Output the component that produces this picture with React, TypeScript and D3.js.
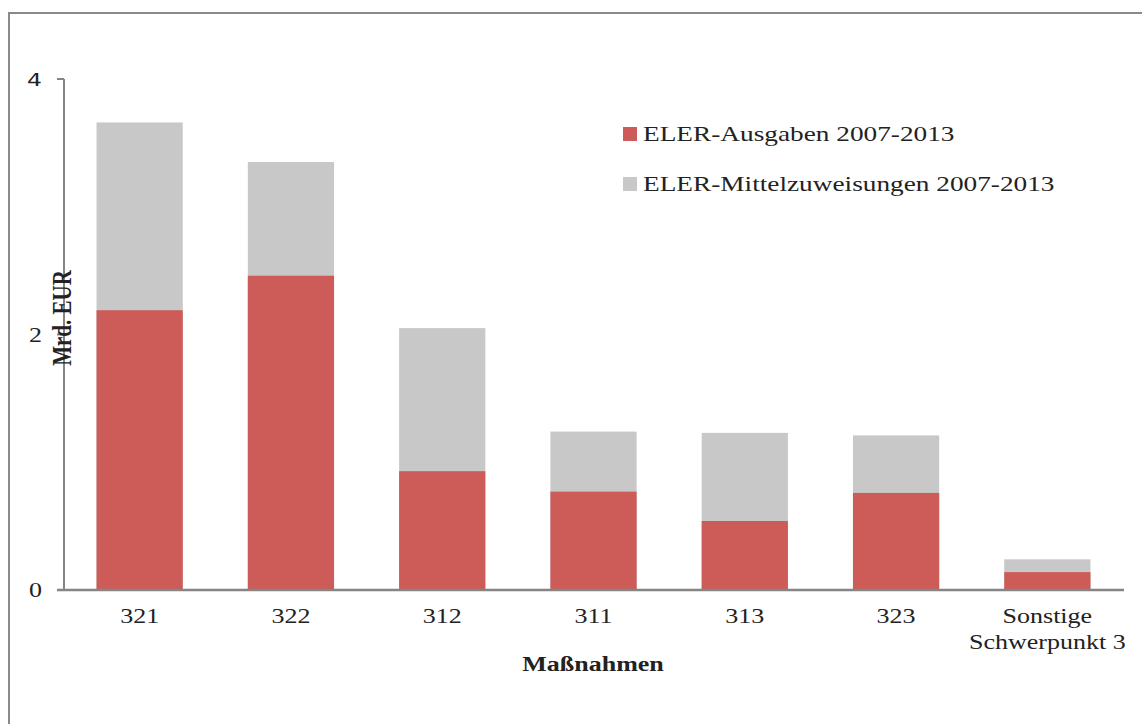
import React from "react";
import * as d3 from "d3";

const categories = ["321", "322", "312", "311", "313", "323", "Sonstige\nSchwerpunkt 3"];
const ausgaben = [2.19, 2.46, 0.93, 0.77, 0.54, 0.76, 0.14];
const zuweisungen = [3.66, 3.35, 2.05, 1.24, 1.23, 1.21, 0.24];
const yTicks = [0, 2, 4];
const seriesNames = ["ELER-Ausgaben 2007-2013", "ELER-Mittelzuweisungen 2007-2013"];

const W = 1142, H = 724;
const RED = "#CD5B57", GRAY = "#C8C8C8", AXIS = "#858585";
const FONT = "'Liberation Serif', 'Times New Roman', serif";
const SX = 1.3;

function SText(props: { x: number; y: number; anchor?: string; size: number; bold?: boolean; family?: string; children: React.ReactNode }) {
  const { x, y, anchor = "start", size, bold, family = FONT, children } = props;
  return (
    <g transform={`translate(${x},${y}) scale(${SX},1)`}>
      <text x={0} y={0} textAnchor={anchor} fontFamily={family} fontSize={size} fontWeight={bold ? "bold" : "normal"} fill="#222">{children}</text>
    </g>
  );
}

export default function App() {
  const x = d3.scaleBand<string>().domain(categories).range([64, 1123]).paddingInner(0.43).paddingOuter(0.215);
  const y = d3.scaleLinear().domain([0, 4]).range([590, 79]);
  return (
    <svg width={W} height={H} style={{ position: "absolute", left: 0, top: 0 }}>
      <rect x={0} y={0} width={W} height={H} fill="#fff" />
      <rect x={9} y={13} width={1160} height={740} fill="none" stroke="#8a8a8a" strokeWidth={2} />
      {categories.map((c, i) => (
        <g key={c}>
          <rect x={x(c)} y={y(zuweisungen[i])} width={x.bandwidth()} height={y(0) - y(zuweisungen[i])} fill={GRAY} />
          <rect x={x(c)} y={y(ausgaben[i])} width={x.bandwidth()} height={y(0) - y(ausgaben[i])} fill={RED} />
        </g>
      ))}
      <line x1={64} x2={64} y1={79} y2={591} stroke={AXIS} strokeWidth={2} />
      <line x1={57} x2={1124} y1={590} y2={590} stroke={AXIS} strokeWidth={2.5} />
      {yTicks.map((t) => (
        <g key={t}>
          <line x1={57} x2={64} y1={y(t)} y2={y(t)} stroke={AXIS} strokeWidth={2} />
          <SText x={42} y={y(t) + 7} anchor="end" size={t === 4 ? 18 : 20} family={t === 4 ? "'DejaVu Sans', sans-serif" : FONT}>{t}</SText>
        </g>
      ))}
      {categories.map((c) => {
        const lines = c.split("\n");
        const cx = (x(c) as number) + x.bandwidth() / 2;
        return (
          <g key={c}>
            {lines.map((l, j) => (
              <SText key={j} x={cx} y={623 + j * 26} anchor="middle" size={20}>{l}</SText>
            ))}
          </g>
        );
      })}
      <SText x={593} y={671} anchor="middle" size={20} bold>Maßnahmen</SText>
      <g transform={`translate(71,318) scale(${SX},1) rotate(-90)`}>
        <text x={0} y={0} textAnchor="middle" fontFamily={FONT} fontSize={21} fontWeight="bold" fill="#222">Mrd. EUR</text>
      </g>
      {seriesNames.map((s, i) => (
        <g key={s}>
          <rect x={623} y={127 + i * 50} width={14} height={14} fill={i === 0 ? RED : GRAY} />
          <SText x={643} y={141 + i * 50} size={21}>{s}</SText>
        </g>
      ))}
    </svg>
  );
}
